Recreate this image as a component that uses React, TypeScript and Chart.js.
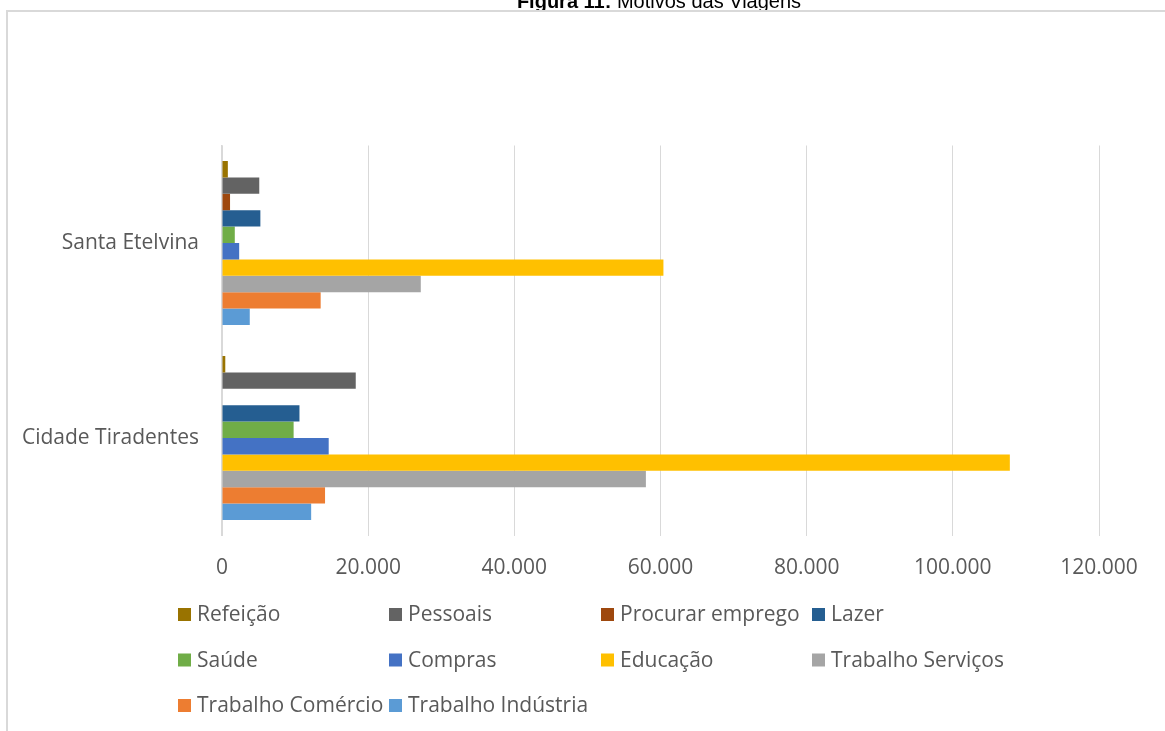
import React, { useEffect, useRef } from "react";
import { Chart, registerables } from "chart.js";

Chart.register(...registerables);

const categories = ["Santa Etelvina", "Cidade Tiradentes"];
const seriesNames = [
  "Refeição",
  "Pessoais",
  "Procurar emprego",
  "Lazer",
  "Saúde",
  "Compras",
  "Educação",
  "Trabalho Serviços",
  "Trabalho Comércio",
  "Trabalho Indústria",
];
const refeicao = [800, 450];
const pessoais = [5100, 18300];
const procurarEmprego = [1100, 0];
const lazer = [5250, 10600];
const saude = [1750, 9800];
const compras = [2350, 14600];
const educacao = [60400, 107800];
const trabalhoServicos = [27200, 58000];
const trabalhoComercio = [13500, 14100];
const trabalhoIndustria = [3800, 12200];
const seriesValues = [
  refeicao,
  pessoais,
  procurarEmprego,
  lazer,
  saude,
  compras,
  educacao,
  trabalhoServicos,
  trabalhoComercio,
  trabalhoIndustria,
];
const seriesColors = [
  "#997300",
  "#636363",
  "#9E480E",
  "#255E91",
  "#70AD47",
  "#4472C4",
  "#FFC000",
  "#A5A5A5",
  "#ED7D31",
  "#5B9BD5",
];
const xMin = 0;
const xMax = 120000;
const xStep = 20000;

const titleBold = "Figura 11:";
const titleRest = " Motivos das Viagens";

const W = 1165;
const H = 731;
const FONT = "'Open Sans', 'Noto Sans', sans-serif";
const TEXT = "#595959";
const FS = 21;

function fmt(v: number) {
  return String(Math.round(v)).replace(/\B(?=(\d{3})+(?!\d))/g, ".");
}

const framePlugin = {
  id: "frame",
  beforeDraw(chart: any) {
    const ctx = chart.ctx;
    ctx.save();
    ctx.fillStyle = "#ffffff";
    ctx.fillRect(0, 0, W, H);
    ctx.strokeStyle = "#d9d9d9";
    ctx.lineWidth = 2;
    ctx.beginPath();
    ctx.moveTo(7, H + 5);
    ctx.lineTo(7, 11);
    ctx.lineTo(W + 5, 11);
    ctx.stroke();
    // title (cut at top)
    ctx.beginPath();
    ctx.rect(0, 0, W, 10);
    ctx.clip();
    ctx.fillStyle = "#000000";
    ctx.textBaseline = "alphabetic";
    const bf = "bold 20px 'Liberation Sans', Arial, sans-serif";
    const nf = "20px 'Liberation Sans', Arial, sans-serif";
    ctx.font = bf;
    const w1 = ctx.measureText(titleBold).width;
    ctx.font = nf;
    const w2 = ctx.measureText(titleRest).width;
    const x0 = 659 - (w1 + w2) / 2;
    ctx.font = bf;
    ctx.fillText(titleBold, x0, 8);
    ctx.font = nf;
    ctx.fillText(titleRest, x0 + w1, 8);
    ctx.restore();
  },
};

const legendPlugin = {
  id: "customLegend",
  afterDraw(chart: any) {
    const ctx = chart.ctx;
    const colX = [178, 389, 601, 812];
    const rowBase = [621, 666.5, 712];
    ctx.save();
    ctx.font = `${FS}px ${FONT}`;
    ctx.textBaseline = "alphabetic";
    ctx.textAlign = "left";
    chart.data.datasets.forEach((ds: any, i: number) => {
      const c = i % 4;
      const r = Math.floor(i / 4);
      const x = colX[c];
      const y = rowBase[r];
      ctx.fillStyle = ds.backgroundColor;
      ctx.fillRect(x, y - 13, 13, 13);
      ctx.fillStyle = TEXT;
      ctx.fillText(ds.label, x + 19, y);
    });
    ctx.restore();
  },
};

export default function App() {
  const ref = useRef<HTMLCanvasElement | null>(null);
  useEffect(() => {
    if (!ref.current) return;
    const chart = new Chart(ref.current, {
      type: "bar",
      data: {
        labels: categories,
        datasets: seriesNames.map((name, i) => ({
          label: name,
          data: seriesValues[i],
          backgroundColor: seriesColors[i],
          borderWidth: 0,
          categoryPercentage: 0.84,
          barPercentage: 1,
        })),
      },
      options: {
        indexAxis: "y",
        animation: false,
        responsive: false,
        maintainAspectRatio: false,
        layout: { padding: { top: 145.5, right: 66, bottom: 0, left: 0 } },
        plugins: {
          legend: { display: false },
          title: { display: false },
          tooltip: { enabled: false },
        },
        scales: {
          x: {
            min: xMin,
            max: xMax,
            afterFit: (s: any) => {
              s.height = H - 535.5;
            },
            ticks: {
              stepSize: xStep,
              callback: (v: any) => fmt(Number(v)),
              font: { family: FONT, size: FS },
              color: TEXT,
              padding: 20,
              maxRotation: 0,
            },
            grid: { color: "#d9d9d9", drawTicks: false, lineWidth: 1 },
            border: { display: false },
          },
          y: {
            afterFit: (s: any) => {
              s.width = 222;
            },
            ticks: {
              font: { family: FONT, size: FS },
              color: TEXT,
              padding: 23,
            },
            grid: { display: false, drawTicks: false },
            border: { display: true, color: "#d9d9d9", width: 1.5 },
          },
        },
      },
      plugins: [framePlugin, legendPlugin],
    });
    return () => chart.destroy();
  }, []);
  return (
    <div style={{ position: "absolute", left: 0, top: 0, width: W, height: H }}>
      <canvas ref={ref} width={W} height={H} style={{ width: W, height: H, display: "block" }} />
    </div>
  );
}
